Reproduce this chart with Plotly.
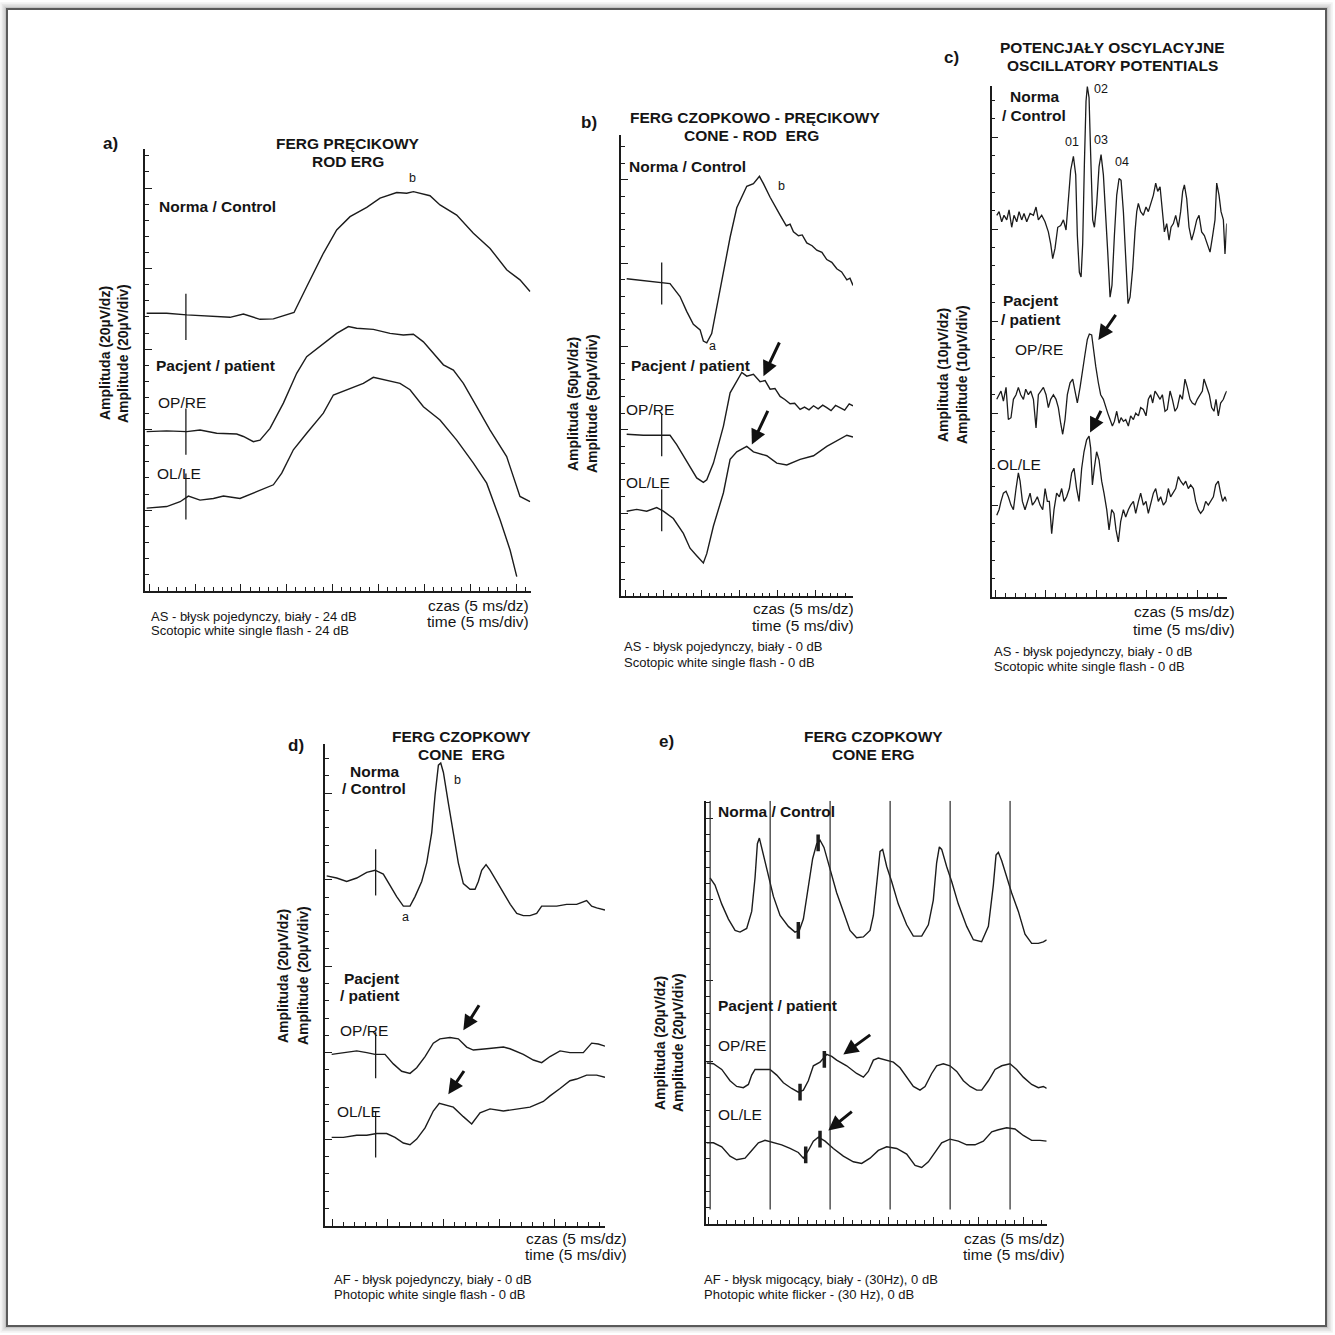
import plotly.graph_objects as go

W = H = 1335
FONT = "Liberation Sans, Arial, Helvetica, sans-serif"
INK = "#1c1c1c"

# ---------------------------------------------------------------------------
# DATA  (time in divisions: one minor tick = 5 ms; amplitude in uV,
#        read with one labelled division = five minor ticks)
# ---------------------------------------------------------------------------

# a) rod ERG (FERG precikowy)
a_norm_t = [-0.28, 1.90, 4.09, 6.27, 8.81, 10.27, 12.08, 13.54, 15.79, 17.17, 18.99, 20.44, 21.90,
            23.72, 25.17, 26.99, 28.08, 28.81, 30.62, 31.71, 33.53, 35.35, 37.17, 38.98, 40.43, 41.53]
a_norm_v = [68.9, 68.9, 68.5, 68.2, 67.9, 68.7, 67.4, 67.5, 69.1, 75.5, 83.8, 89.6, 92.9,
            95.2, 97.5, 98.9, 98.7, 99.1, 98.1, 95.8, 93.3, 88.8, 85.0, 79.7, 77.2, 74.3]
a_re_t = [-0.28, 1.90, 4.09, 5.54, 7.36, 9.54, 10.27, 11.36, 12.08, 13.17, 14.63, 16.08, 17.17, 18.99,
          20.44, 21.72, 22.62, 24.44, 26.26, 27.71, 28.81, 29.90, 30.99, 32.08, 33.17, 34.26, 35.71,
          37.17, 38.98, 40.43, 41.53]
a_re_v = [39.5, 39.7, 39.5, 39.9, 39.1, 38.9, 38.3, 37.0, 37.4, 40.3, 46.6, 54.0, 58.1, 61.4,
          63.9, 65.6, 65.2, 64.9, 63.9, 63.5, 63.7, 61.8, 58.9, 56.1, 54.8, 51.5, 45.7,
          39.9, 33.3, 23.4, 22.1]
a_le_t = [-0.28, 1.90, 3.37, 4.27, 5.54, 7.00, 8.09, 9.90, 11.72, 13.54, 14.45, 15.72, 17.17, 18.99,
          20.08, 21.90, 23.35, 24.44, 25.53, 27.35, 28.44, 29.90, 31.71, 33.53, 35.35, 36.80, 38.26,
          39.35, 40.08]
a_le_v = [20.5, 20.9, 22.1, 23.5, 22.5, 22.9, 23.5, 22.9, 24.6, 26.3, 29.2, 35.0, 39.1, 44.1,
          48.6, 50.3, 51.5, 53.0, 52.4, 51.5, 49.9, 45.7, 42.4, 37.4, 31.7, 26.7, 17.6,
          10.1, 3.5]
a_stim_t = 4.0
a_stim_v = [68.0, 39.5, 23.4]

# b) cone-rod ERG
b_norm_t = [0.13, 1.45, 2.77, 4.53, 5.85, 7.17, 8.05, 8.93, 9.82, 10.25, 10.70, 11.35, 12.02, 12.90,
            13.78, 14.66, 15.98, 16.86, 17.65, 18.18, 19.06, 20.38, 21.2, 21.7, 22.14, 22.8, 23.3,
            23.9, 24.6, 25.22, 25.9, 26.54, 27.2, 27.86, 28.5, 29.19, 29.6, 30.0]
b_norm_v = [190.7, 190.0, 189.3, 188.4, 187.8, 180.0, 171.1, 163.3, 160.0, 153.3, 152.2, 157.8, 173.3,
            193.3, 215.6, 233.3, 246.2, 247.8, 252.2, 247.8, 239.6, 228.9, 222.5, 223.5, 218.9, 216.5,
            217.0, 212.2, 210.5, 207.8, 206.5, 202.2, 200.5, 196.7, 194.8, 190.0, 191.0, 186.7]
b_re_t = [0.13, 2.33, 4.53, 5.85, 6.73, 8.05, 9.37, 10.25, 10.70, 11.58, 12.90, 13.78, 14.66, 15.32,
          15.98, 16.86, 17.74, 18.4, 19.06, 19.7, 20.38, 21.0, 21.7, 22.3, 23.02, 23.6, 24.2, 24.79,
          25.4, 26.0, 26.54, 27.1, 27.7, 28.30, 28.9, 29.5, 30.0]
b_re_v = [97.3, 96.7, 96.7, 96.7, 91.1, 81.1, 71.1, 68.4, 70.0, 80.0, 102.2, 122.2, 128.9, 134.4,
          132.2, 133.3, 128.9, 129.5, 124.4, 124.8, 120.0, 118.2, 115.6, 115.9, 112.2, 113.6, 112.0,
          114.4, 112.6, 114.8, 113.3, 111.5, 114.6, 113.3, 111.8, 115.6, 114.4]
b_le_t = [0.13, 1.45, 2.77, 4.09, 4.97, 6.29, 7.61, 8.49, 9.37, 10.25, 10.70, 11.58, 12.90, 13.78,
          14.66, 15.98, 16.86, 18.62, 19.94, 21.26, 23.02, 24.79, 26.54, 27.86, 29.19, 30.0]
b_le_v = [51.1, 52.2, 51.1, 53.3, 51.1, 46.7, 37.8, 28.9, 24.4, 20.0, 25.6, 42.2, 62.2, 82.2,
          86.7, 90.0, 86.7, 84.4, 80.0, 78.9, 82.2, 84.4, 90.0, 93.3, 96.7, 95.6]
b_stim_t = 4.75
b_stim_v = [187.8, 96.7, 51.7]
b_arrows = [(20.38, 153.3, 18.18, 132.2), (18.85, 112.2, 16.65, 91.1)]  # tail t, tail v, head t, head v

# c) oscillatory potentials
c_norm_t = [0.15, 0.38, 0.64, 0.87, 1.14, 1.37, 1.63, 1.86, 2.13, 2.36,
            2.62, 2.85, 3.12, 3.45, 3.78, 4.04, 4.27, 4.60, 4.93, 5.26,
            5.49, 5.69, 5.92, 6.19, 6.48, 6.75, 7.01, 7.24, 7.47, 7.74,
            7.97, 8.13, 8.33, 8.50, 8.66, 8.83, 8.99, 9.12, 9.29, 9.45,
            9.65, 9.82, 10.05, 10.28, 10.48, 10.71, 10.94, 11.14, 11.37, 11.56,
            11.80, 12.03, 12.26, 12.46, 12.69, 12.92, 13.15, 13.35, 13.61, 13.84,
            14.01, 14.17, 14.40, 14.67, 14.93, 15.16, 15.39, 15.66, 15.89, 16.09,
            16.32, 16.55, 16.75, 16.98, 17.21, 17.41, 17.64, 17.87, 18.13, 18.36,
            18.56, 18.73, 18.96, 19.19, 19.45, 19.68, 19.95, 20.18, 20.44, 20.71,
            21.00, 21.27, 21.53, 21.76, 21.93, 22.16, 22.36, 22.59, 22.75, 22.92]
c_norm_v = [41.5, 41.9, 40.8, 41.5, 41.0, 42.1, 40.2, 41.5, 40.8, 41.9,
            41.0, 41.7, 40.8, 41.7, 41.5, 42.4, 41.0, 41.5, 40.8, 39.7,
            38.4, 36.8, 37.9, 40.2, 40.4, 41.0, 39.9, 42.8, 46.4, 47.9,
            45.9, 39.3, 35.3, 34.8, 38.4, 47.2, 53.9, 55.5, 54.3, 48.1,
            41.0, 40.2, 42.8, 46.8, 48.1, 45.9, 41.9, 37.5, 32.6, 33.9,
            39.3, 43.7, 45.5, 45.3, 41.9, 36.6, 31.9, 32.6, 35.7, 39.7,
            41.9, 42.8, 41.9, 41.5, 42.4, 41.9, 42.8, 43.7, 45.0, 44.1,
            44.6, 41.5, 39.7, 40.6, 38.8, 40.2, 40.6, 41.5, 40.2, 41.9,
            44.1, 44.8, 43.3, 40.2, 38.8, 39.7, 41.0, 41.5, 39.7, 39.3,
            38.4, 37.5, 39.3, 41.0, 45.0, 43.7, 41.9, 41.0, 37.3, 40.6]
c_re_t = [0.15, 0.38, 0.57, 0.81, 1.07, 1.30, 1.56, 1.80, 2.06, 2.29,
          2.52, 2.79, 3.02, 3.28, 3.51, 3.78, 4.04, 4.27, 4.50, 4.77,
          5.03, 5.26, 5.49, 5.76, 6.02, 6.25, 6.48, 6.68, 6.91, 7.14,
          7.41, 7.67, 7.90, 8.13, 8.40, 8.67, 8.89, 9.12, 9.32, 9.55,
          9.72, 9.95, 10.21, 10.44, 10.71, 10.94, 11.14, 11.37, 11.60, 11.80,
          12.03, 12.26, 12.46, 12.69, 12.92, 13.18, 13.41, 13.68, 13.91, 14.18,
          14.40, 14.67, 14.93, 15.16, 15.39, 15.59, 15.82, 16.05, 16.32, 16.55,
          16.81, 17.04, 17.31, 17.54, 17.80, 18.03, 18.30, 18.53, 18.79, 19.02,
          19.29, 19.52, 19.78, 20.01, 20.28, 20.51, 20.67, 20.94, 21.20, 21.43,
          21.66, 21.86, 22.09, 22.32, 22.59, 22.75, 22.92]
c_re_v = [21.5, 22.0, 22.4, 21.3, 22.8, 19.3, 19.5, 21.5, 22.0, 22.8,
          22.0, 21.5, 22.6, 22.0, 22.4, 21.5, 18.4, 22.0, 22.4, 22.8,
          22.0, 20.6, 21.5, 22.0, 21.5, 20.6, 18.9, 17.7, 19.3, 22.0,
          23.3, 23.7, 22.4, 21.1, 22.8, 25.1, 26.4, 28.0, 28.6, 28.5,
          26.8, 25.1, 23.3, 22.0, 21.5, 20.6, 20.0, 19.3, 18.6, 19.1,
          20.2, 18.9, 19.5, 19.1, 19.3, 18.6, 19.7, 19.3, 20.0, 19.7,
          20.6, 20.4, 19.7, 21.5, 22.0, 21.1, 22.4, 22.0, 21.5, 22.0,
          20.2, 20.4, 22.4, 21.5, 20.2, 20.6, 22.0, 21.5, 23.7, 22.8,
          21.5, 21.1, 20.9, 21.5, 22.0, 22.4, 23.7, 22.8, 22.0, 20.6,
          20.2, 21.5, 19.7, 21.1, 21.5, 22.0, 22.4]
c_le_t = [0.15, 0.38, 0.57, 0.81, 1.07, 1.30, 1.56, 1.80, 2.06, 2.29,
          2.46, 2.69, 2.95, 3.18, 3.45, 3.68, 3.94, 4.17, 4.44, 4.70,
          4.94, 5.16, 5.36, 5.59, 5.82, 6.08, 6.35, 6.58, 6.81, 7.07,
          7.34, 7.57, 7.80, 8.06, 8.30, 8.56, 8.79, 9.05, 9.29, 9.45,
          9.62, 9.81, 10.04, 10.28, 10.54, 10.77, 11.04, 11.27, 11.53, 11.76,
          11.96, 12.19, 12.42, 12.69, 12.92, 13.18, 13.41, 13.68, 13.91, 14.18,
          14.40, 14.67, 14.93, 15.16, 15.39, 15.66, 15.89, 16.15, 16.38, 16.65,
          16.91, 17.14, 17.37, 17.63, 17.87, 18.13, 18.36, 18.63, 18.86, 19.12,
          19.35, 19.62, 19.85, 20.11, 20.34, 20.61, 20.84, 21.10, 21.33, 21.60,
          21.83, 22.09, 22.32, 22.52, 22.75, 22.92]
c_le_v = [8.9, 9.5, 10.4, 11.3, 11.5, 10.9, 10.0, 9.5, 11.8, 13.5,
          12.6, 10.4, 9.5, 10.4, 11.3, 10.0, 10.4, 10.9, 10.0, 9.5,
          11.8, 10.4, 10.4, 6.9, 9.5, 11.3, 10.9, 11.8, 10.4, 10.9,
          11.8, 13.5, 14.0, 11.8, 10.4, 14.0, 15.8, 17.1, 17.5, 16.2,
          12.2, 14.0, 15.8, 14.9, 12.6, 11.3, 9.5, 7.3, 9.5, 9.1,
          7.3, 6.0, 8.2, 9.5, 8.7, 9.5, 10.0, 10.4, 9.1, 10.4,
          11.3, 10.0, 10.4, 9.1, 10.0, 11.3, 11.8, 10.4, 10.9, 10.0,
          10.4, 11.8, 10.9, 11.3, 11.8, 13.1, 12.6, 12.2, 12.6, 11.8,
          12.2, 11.8, 10.4, 9.5, 9.1, 9.5, 10.4, 10.0, 10.4, 10.9,
          12.2, 12.6, 11.3, 10.4, 10.9, 10.4]
c_arrows = [(12.03, 30.83, 10.21, 27.95), (10.54, 20.41, 9.39, 17.88)]

# d) cone ERG, single flash
d_norm_t = [-0.50, 0.40, 1.30, 2.20, 3.10, 3.85, 4.59, 5.19, 5.79, 6.39,
            6.99, 7.44, 8.04, 8.49, 8.94, 9.24, 9.54, 9.75, 9.99, 10.43,
            10.88, 11.33, 11.78, 12.38, 12.83, 13.13, 13.43, 13.82, 14.18, 14.78,
            15.38, 16.00, 16.58, 17.17, 17.77, 18.37, 18.82, 19.27, 20.17, 21.06,
            21.96, 22.86, 23.31, 23.76, 24.51]
d_norm_v = [80.9, 80.4, 79.6, 80.4, 81.7, 82.2, 81.3, 78.7, 76.1, 73.9,
            73.9, 76.1, 79.6, 83.9, 90.9, 99.6, 106.5, 107.0, 104.8, 97.8,
            90.9, 83.9, 79.1, 77.8, 77.8, 79.6, 82.2, 83.5, 82.2, 79.6,
            77.0, 74.3, 72.2, 71.7, 71.7, 72.2, 73.9, 73.9, 73.9, 74.3,
            74.3, 75.2, 73.9, 73.5, 73.0]
d_re_t = [-0.05, 1.00, 2.20, 3.10, 3.85, 4.74, 5.49, 6.24, 6.99, 7.59, 8.34, 9.08, 9.68, 10.58, 11.33,
          12.08, 12.68, 13.88, 15.38, 15.97, 17.17, 18.07, 18.82, 19.57, 20.47, 21.36, 22.56, 23.31,
          23.91, 24.51]
d_re_v = [39.6, 40.0, 40.4, 40.0, 39.6, 39.6, 37.4, 35.7, 35.2, 36.5, 39.1, 42.2, 43.2, 43.5, 43.2,
          41.3, 40.6, 40.9, 41.3, 40.9, 39.6, 38.3, 37.7, 39.1, 40.4, 40.0, 40.0, 42.2,
          42.0, 41.5]
d_le_t = [-0.05, 1.00, 2.20, 3.10, 4.00, 4.89, 5.64, 6.39, 6.99, 7.59, 8.34, 9.08, 9.62, 10.28, 10.88,
          11.78, 12.53, 13.28, 14.18, 15.38, 16.57, 17.77, 18.97, 19.57, 20.47, 21.36, 21.96, 22.86,
          23.76, 24.51]
d_le_v = [20.4, 20.4, 20.9, 20.9, 21.3, 21.3, 20.4, 19.1, 18.7, 20.0, 22.6, 26.5, 28.3, 27.8, 27.4,
          25.2, 23.5, 26.1, 27.0, 26.5, 27.0, 27.4, 28.7, 30.0, 31.7, 33.5, 33.9, 34.8,
          34.8, 34.3]
d_stim_t = 3.9
d_stim_v = [81.7, 39.4, 21.1]
d_arrows = [(13.28, 51.3, 11.78, 45.2), (11.93, 36.1, 10.43, 30.4)]

# e) cone ERG, 30 Hz flicker
e_norm_t = [0.19, 0.74, 1.49, 2.23, 2.97, 3.52, 4.26, 4.82, 5.19, 5.45,
            5.67, 5.93, 6.49, 7.23, 7.97, 8.89, 9.63, 10.11, 10.56, 11.11,
            11.59, 12.04, 12.41, 12.85, 13.52, 14.26, 15.00, 15.74, 16.48, 17.23,
            17.97, 18.34, 18.78, 19.08, 19.37, 19.82, 20.37, 21.11, 22.04, 22.78,
            23.71, 24.45, 25.00, 25.37, 25.67, 25.93, 26.48, 27.04, 27.78, 28.71,
            29.45, 30.37, 31.12, 31.67, 31.97, 32.23, 32.60, 33.15, 33.70, 34.45,
            35.19, 35.93, 36.67, 37.23, 37.60]
e_norm_v = [85.4, 83.6, 78.9, 75.2, 72.4, 72.0, 72.9, 77.1, 85.4, 93.8,
            95.2, 92.9, 87.3, 80.8, 76.1, 73.4, 72.0, 72.4, 75.2, 82.6,
            90.1, 93.8, 94.7, 92.9, 87.3, 81.7, 77.1, 72.4, 70.6, 70.8,
            72.4, 76.1, 85.4, 91.9, 92.4, 88.2, 84.5, 78.9, 73.8, 71.0,
            71.0, 73.8, 79.9, 89.1, 93.0, 92.4, 88.2, 84.5, 78.9, 73.4,
            70.1, 69.6, 73.4, 83.6, 91.0, 91.7, 89.6, 85.4, 81.7, 77.1,
            71.5, 69.2, 69.2, 69.6, 70.1]
e_re_t = [-0.18, 0.56, 1.49, 2.41, 3.15, 3.89, 4.45, 4.82, 5.19, 6.11,
          6.85, 7.60, 8.34, 9.26, 10.00, 10.56, 11.11, 11.67, 12.41, 13.15,
          13.71, 14.26, 15.37, 16.48, 17.23, 17.78, 18.34, 18.89, 19.82, 20.56,
          21.30, 22.04, 22.78, 23.52, 24.08, 24.82, 25.37, 26.11, 26.85, 27.60,
          28.34, 29.08, 29.82, 30.37, 31.12, 31.86, 32.60, 33.52, 34.26, 35.00,
          35.93, 36.67, 37.23, 37.60]
e_re_v = [39.7, 39.5, 38.1, 35.3, 33.9, 33.6, 34.4, 36.7, 38.1, 38.1,
          38.1, 36.7, 34.8, 33.4, 32.5, 33.0, 35.3, 39.0, 39.9, 41.8,
          41.3, 40.4, 39.0, 37.1, 36.2, 37.6, 40.4, 40.9, 40.4, 39.9,
          38.5, 36.2, 33.9, 33.0, 33.9, 37.1, 39.0, 39.5, 39.0, 37.6,
          35.3, 33.9, 33.0, 33.0, 35.3, 38.1, 39.0, 39.5, 38.1, 36.2,
          34.4, 33.6, 33.9, 33.4]
e_le_t = [-0.18, 0.56, 1.49, 2.41, 3.15, 4.08, 4.82, 5.56, 6.30, 7.23,
          8.15, 9.08, 10.00, 10.56, 11.11, 11.67, 12.23, 12.97, 13.89, 15.00,
          16.11, 17.04, 17.97, 18.89, 19.82, 20.93, 22.04, 22.97, 23.71, 24.45,
          25.19, 25.93, 26.85, 27.78, 28.71, 29.63, 30.56, 31.49, 32.23, 33.15,
          34.08, 35.00, 35.93, 36.86, 37.60]
e_le_v = [20.0, 20.0, 19.0, 16.7, 15.8, 16.2, 18.1, 20.0, 20.6, 20.0,
          19.5, 18.6, 17.6, 16.2, 18.1, 20.4, 21.4, 20.4, 18.6, 16.7,
          15.3, 14.9, 16.2, 18.1, 19.0, 18.6, 17.2, 14.4, 13.9, 15.3,
          17.6, 20.0, 20.9, 20.4, 19.5, 19.5, 20.4, 22.7, 23.2, 23.7,
          23.4, 21.8, 20.6, 20.6, 20.4]
e_flicker_t = [0.2, 6.87, 13.53, 20.2, 26.87, 33.53]
e_flicker_v = [3.5, 104.4]
e_mark_t = [10.0, 12.2, 10.19, 12.89, 10.82, 12.41]
e_mark_v = [72.4, 94.0, 32.5, 40.6, 17.0, 20.9]
e_arrows = [(18.15, 46.9, 15.0, 41.8), (16.11, 28.0, 13.33, 23.0)]

# ---------------------------------------------------------------------------
# LAYOUT (pixel placement of the five panels)
# ---------------------------------------------------------------------------
panels = [
    # axis suffix, x px (left,right), y px (top,bottom), x range, y range, y major, y minor
    ("", (145, 530.7), (149, 590.7), (-0.46, 41.6), (0, 109.7), 20, 4),
    ("2", (621, 853), (135, 596.3), (-0.62, 30.0), (0, 277), 50, 10),
    ("3", (991.7, 1226.7), (85.6, 597.1), (-0.35, 22.92), (0, 55.6), 10, 2),
    ("4", (325, 605), (744.4, 1225.6), (-0.65, 24.51), (0, 111.3), 20, 4),
    ("5", (706, 1046.7), (800.8, 1223.8), (-0.26, 37.6), (0, 104.4), 20, 4),
]

axes = {}
for n, xd, yd, xr, yr, ymaj, ymin in panels:
    common = dict(showline=True, linecolor=INK, linewidth=1.5, ticks="inside", ticklen=7,
                  tickwidth=1.2, tickcolor=INK, showticklabels=False, showgrid=False,
                  zeroline=False, fixedrange=True)
    axes["xaxis" + n] = dict(domain=[xd[0] / W, xd[1] / W], range=list(xr), anchor="y" + n,
                             tick0=0, dtick=5,
                             minor=dict(ticks="inside", ticklen=4, tickwidth=1.1, tickcolor=INK,
                                        tick0=0, dtick=1, showgrid=False),
                             **common)
    axes["yaxis" + n] = dict(domain=[1 - yd[1] / H, 1 - yd[0] / H], range=list(yr), anchor="x" + n,
                             tick0=0, dtick=ymaj,
                             minor=dict(ticks="inside", ticklen=4, tickwidth=1.1, tickcolor=INK,
                                        tick0=0, dtick=ymin, showgrid=False),
                             **common)

fig = go.Figure()


def line(t, v, n, width=1.4):
    fig.add_trace(go.Scatter(x=t, y=v, mode="lines", xaxis="x" + n, yaxis="y" + n,
                             line=dict(color=INK, width=width), showlegend=False, hoverinfo="skip"))


def stim(t, vs, n, size=32, width=1.3):
    fig.add_trace(go.Scatter(x=[t] * len(vs), y=vs, mode="markers", xaxis="x" + n, yaxis="y" + n,
                             marker=dict(symbol="line-ns-open", size=size, color=INK,
                                         line=dict(width=width, color=INK)),
                             showlegend=False, hoverinfo="skip"))


line(a_norm_t, a_norm_v, "")
line(a_re_t, a_re_v, "")
line(a_le_t, a_le_v, "")
stim(a_stim_t, a_stim_v, "", size=33)

line(b_norm_t, b_norm_v, "2")
line(b_re_t, b_re_v, "2")
line(b_le_t, b_le_v, "2")
stim(b_stim_t, b_stim_v, "2", size=30)

line(c_norm_t, c_norm_v, "3", 1.3)
line(c_re_t, c_re_v, "3", 1.3)
line(c_le_t, c_le_v, "3", 1.3)

line(d_norm_t, d_norm_v, "4")
line(d_re_t, d_re_v, "4")
line(d_le_t, d_le_v, "4")
stim(d_stim_t, d_stim_v, "4", size=33)

line(e_norm_t, e_norm_v, "5")
line(e_re_t, e_re_v, "5")
line(e_le_t, e_le_v, "5")
fig.add_trace(go.Scatter(x=e_mark_t, y=e_mark_v, mode="markers", xaxis="x5", yaxis="y5",
                         marker=dict(symbol="line-ns-open", size=12, color=INK,
                                     line=dict(width=3.5, color=INK)),
                         showlegend=False, hoverinfo="skip"))

shapes = []
# soft frame shadow + frame
for d, c in [(6, "#f3f3f3"), (4.5, "#e6e6e6"), (3, "#d6d6d6"), (1.5, "#c4c4c4")]:
    shapes.append(dict(type="rect", xref="paper", yref="paper",
                       x0=(7 - d) / W, x1=(1326 + d) / W, y0=1 - (1326 + d) / H, y1=1 - (9 - d) / H,
                       line=dict(color=c, width=1.6)))
shapes.append(dict(type="rect", xref="paper", yref="paper", x0=7 / W, x1=1326 / W,
                   y0=1 - 1326 / H, y1=1 - 9 / H, line=dict(color="#5a5a5a", width=2)))
for ft in e_flicker_t:
    shapes.append(dict(type="line", xref="x5", yref="y5", x0=ft, x1=ft,
                       y0=e_flicker_v[0], y1=e_flicker_v[1], line=dict(color="#2a2a2a", width=1.2)))

ann = []


def txt(px, py, s, size=15.5, bold=False, xanchor="left", angle=0):
    ann.append(dict(x=px / W, y=1 - py / H, xref="paper", yref="paper",
                    text=("<b>%s</b>" % s) if bold else s, showarrow=False,
                    xanchor=xanchor, yanchor="middle", textangle=angle,
                    font=dict(family=FONT, size=size, color="#151515")))


def arrows(lst, n):
    for tt, tv, ht, hv in lst:
        ann.append(dict(x=ht, y=hv, ax=tt, ay=tv, xref="x" + n, yref="y" + n,
                        axref="x" + n, ayref="y" + n, text="", showarrow=True,
                        arrowhead=2, arrowsize=1.0, arrowwidth=3, arrowcolor="#111", standoff=0))


NB = "\u00a0"

# a)
txt(101, 143, "a)", 17, True)
txt(348, 143, "FERG PRĘCIKOWY", 15.5, True, "center")
txt(348, 161, "ROD ERG", 15.5, True, "center")
txt(157, 206, "Norma / Control", bold=True)
txt(154, 365, "Pacjent / patient", bold=True)
txt(156, 402, "OP/RE")
txt(155, 473, "OL/LE")
txt(412, 178, "b", 12.5, False, "center")
txt(105, 353, "Amplituda (20µV/dz)", 14, True, "center", -90)
txt(123, 353, "Amplitude (20µV/div)", 14, True, "center", -90)
txt(531, 605, "czas (5 ms/dz)", 15.5, False, "right")
txt(531, 622, "time (5 ms/div)", 15.5, False, "right")
txt(149, 616, "AS - błysk pojedynczy, biały - 24 dB", 13)
txt(149, 630, "Scotopic white single flash - 24 dB", 13)

# b)
txt(579, 122, "b)", 17, True)
txt(755, 118, "FERG CZOPKOWO - PRĘCIKOWY", 15.5, True, "center")
txt(751, 136, "CONE - ROD" + NB + " ERG", 15.5, True, "center")
txt(627, 166, "Norma / Control", bold=True)
txt(629, 365, "Pacjent / patient", bold=True)
txt(624, 409, "OP/RE")
txt(624, 483, "OL/LE")
txt(713, 346, "a", 12.5, False, "center")
txt(781, 186, "b", 12.5, False, "center")
txt(573, 404, "Amplituda (50µV/dz)", 14, True, "center", -90)
txt(592, 404, "Amplitude (50µV/div)", 14, True, "center", -90)
txt(856, 608, "czas (5 ms/dz)", 15.5, False, "right")
txt(856, 625, "time (5 ms/div)", 15.5, False, "right")
txt(622, 646, "AS - błysk pojedynczy, biały - 0 dB", 13)
txt(622, 662, "Scotopic white single flash - 0 dB", 13)
arrows(b_arrows, "2")

# c)
txt(942, 57, "c)", 17, True)
txt(1112, 48, "POTENCJAŁY OSCYLACYJNE", 15.5, True, "center")
txt(1112, 66, "OSCILLATORY POTENTIALS", 15.5, True, "center")
txt(1008, 96, "Norma", bold=True)
txt(1000, 115.5, "/ Control", bold=True)
txt(1001, 300, "Pacjent", bold=True)
txt(999, 319.5, "/ patient", bold=True)
txt(1013, 350, "OP/RE")
txt(995, 464.5, "OL/LE")
txt(1071.7, 142, "01", 12.5, False, "center")
txt(1100.7, 89, "02", 12.5, False, "center")
txt(1100.7, 140, "03", 12.5, False, "center")
txt(1121.7, 162.4, "04", 12.5, False, "center")
txt(943, 375, "Amplituda (10µV/dz)", 14, True, "center", -90)
txt(962, 375, "Amplitude (10µV/div)", 14, True, "center", -90)
txt(1237, 611, "czas (5 ms/dz)", 15.5, False, "right")
txt(1237, 629, "time (5 ms/div)", 15.5, False, "right")
txt(992, 651, "AS - błysk pojedynczy, biały - 0 dB", 13)
txt(992, 666.5, "Scotopic white single flash - 0 dB", 13)
arrows(c_arrows, "3")

# d)
txt(286, 745, "d)", 17, True)
txt(461, 736, "FERG CZOPKOWY", 15.5, True, "center")
txt(461, 754, "CONE" + NB + " ERG", 15.5, True, "center")
txt(348, 771, "Norma", bold=True)
txt(340, 788, "/ Control", bold=True)
txt(341.5, 978.5, "Pacjent", bold=True)
txt(338, 995.5, "/ patient", bold=True)
txt(338, 1030, "OP/RE")
txt(335, 1111, "OL/LE")
txt(406, 917.4, "a", 12.5, False, "center")
txt(457.3, 780, "b", 12.5, False, "center")
txt(283, 976, "Amplituda (20µV/dz)", 14, True, "center", -90)
txt(303, 976, "Amplitude (20µV/div)", 14, True, "center", -90)
txt(629, 1238, "czas (5 ms/dz)", 15.5, False, "right")
txt(629, 1254, "time (5 ms/div)", 15.5, False, "right")
txt(332, 1279, "AF - błysk pojedynczy, biały - 0 dB", 13)
txt(332, 1294, "Photopic white single flash - 0 dB", 13)
arrows(d_arrows, "4")

# e)
txt(657, 741, "e)", 17, True)
txt(873, 736, "FERG CZOPKOWY", 15.5, True, "center")
txt(873, 754, "CONE ERG", 15.5, True, "center")
txt(716, 811.4, "Norma / Control", bold=True)
txt(716, 1005.7, "Pacjent / patient", bold=True)
txt(716, 1045, "OP/RE")
txt(716, 1114.7, "OL/LE")
txt(660, 1043, "Amplituda (20µV/dz)", 14, True, "center", -90)
txt(678, 1043, "Amplitude (20µV/div)", 14, True, "center", -90)
txt(1067, 1238, "czas (5 ms/dz)", 15.5, False, "right")
txt(1067, 1254, "time (5 ms/div)", 15.5, False, "right")
txt(702, 1279, "AF - błysk migocący, biały - (30Hz), 0 dB", 13)
txt(702, 1294, "Photopic white flicker - (30 Hz), 0 dB", 13)
arrows(e_arrows, "5")

fig.update_layout(width=W, height=H, autosize=False, margin=dict(l=0, r=0, t=0, b=0),
                  paper_bgcolor="white", plot_bgcolor="rgba(0,0,0,0)",
                  shapes=shapes, annotations=ann, showlegend=False,
                  font=dict(family=FONT, color="#151515"), **axes)

# remove the browser's default 8px body margin so the 1335px figure fills the window exactly
fig.write_html("out.html", config={"displayModeBar": False},
               post_script="document.body.style.margin='0';document.body.style.overflow='hidden';")
